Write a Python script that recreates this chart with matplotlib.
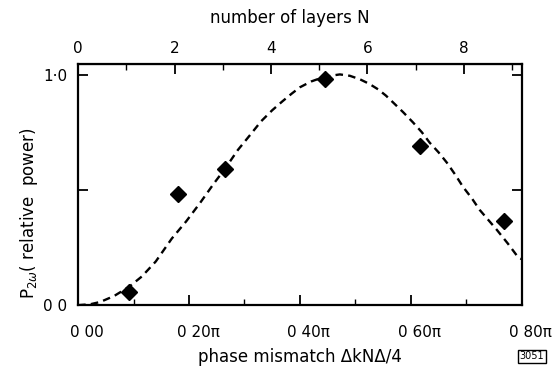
import matplotlib.pyplot as plt
import matplotlib.transforms as mtransforms
from matplotlib.ticker import MultipleLocator

plt.rcParams['font.family'] = 'DejaVu Sans'

# measured points (phase mismatch in units of pi, relative power)
phase_pts = [0.092, 0.180, 0.265, 0.445, 0.616, 0.768]
power_pts = [0.057, 0.485, 0.594, 0.983, 0.694, 0.367]

# dashed curve
curve_x = [0.000, 0.022, 0.040, 0.065, 0.092, 0.115, 0.140, 0.169, 0.195, 0.220,
           0.245, 0.265, 0.288, 0.310, 0.330, 0.350, 0.368, 0.385, 0.400, 0.420,
           0.441, 0.458, 0.472, 0.490, 0.508, 0.525, 0.541, 0.555, 0.568, 0.586,
           0.604, 0.620, 0.634, 0.650, 0.665, 0.680, 0.694, 0.710, 0.724, 0.740,
           0.755, 0.775, 0.793, 0.800]
curve_y = [0.000, 0.004, 0.014, 0.040, 0.080, 0.125, 0.190, 0.290, 0.365, 0.445,
           0.530, 0.594, 0.675, 0.740, 0.800, 0.848, 0.886, 0.920, 0.948, 0.973,
           0.991, 0.999, 1.004, 0.998, 0.983, 0.963, 0.939, 0.912, 0.882, 0.840,
           0.795, 0.752, 0.707, 0.665, 0.620, 0.568, 0.515, 0.465, 0.415, 0.370,
           0.328, 0.268, 0.210, 0.200]

xticks = [0.0, 0.2, 0.4, 0.6, 0.8]
xticklabels = ['0 00', '0 20π', '0 40π', '0 60π', '0 80π']
yticks = [0.0, 0.5, 1.0]
yticklabels = ['0 0', '', '1·0']
n_max = 9.2  # layers at right edge

fig = plt.figure(figsize=(5.58, 3.69), dpi=100)
ax = fig.add_axes([0.140, 0.173, 0.795, 0.654])

ax.plot(curve_x, curve_y, color='black', lw=1.7, linestyle=(0, (3.2, 2.2)))
ax.plot(phase_pts, power_pts, linestyle='none', marker='D', ms=8, color='black')

ax.set_xlim(0, 0.8)
ax.set_ylim(0, 1.05)

ax.set_xticks(xticks)
ax.set_xticklabels(xticklabels, fontsize=11)
ax.xaxis.set_minor_locator(MultipleLocator(0.1))
ax.set_yticks(yticks)
ax.set_yticklabels(yticklabels, fontsize=11)

ax.tick_params(axis='x', which='major', direction='in', length=7, width=1.3, pad=14, top=False)
ax.tick_params(axis='x', which='minor', direction='in', length=4, width=1.0, top=False)
ax.tick_params(axis='y', which='major', direction='in', length=7, width=1.3, pad=8, right=True)

# pi labels sit a bit right of their ticks
offset = mtransforms.ScaledTranslation(9 / 100, 0, fig.dpi_scale_trans)
for lab in ax.get_xticklabels():
    lab.set_transform(lab.get_transform() + offset)

for s in ax.spines.values():
    s.set_linewidth(1.6)

ax.set_xlabel('phase mismatch ΔkNΔ/4', fontsize=12, labelpad=6)
ax.set_ylabel(r'P$_{2\omega}$( relative  power)', fontsize=12)
ax.yaxis.set_label_coords(-0.085, 0.38)

top = ax.secondary_xaxis('top', functions=(lambda x: x * n_max / 0.8,
                                             lambda n: n * 0.8 / n_max))
top.set_xticks([0, 2, 4, 6, 8])
top.xaxis.set_minor_locator(MultipleLocator(1))
top.tick_params(axis='x', which='major', direction='in', length=7, width=1.3, pad=6, labelsize=11)
top.tick_params(axis='x', which='minor', direction='in', length=4, width=1.0)
fig.text(0.52, 0.951, 'number of layers N', fontsize=12, ha='center', va='center')

fig.text(0.975, 0.035, '3051', fontsize=7, ha='right', va='center',
         bbox=dict(boxstyle='square,pad=0.15', fc='white', ec='black', lw=1))

fig.savefig('out.png', dpi=100)
